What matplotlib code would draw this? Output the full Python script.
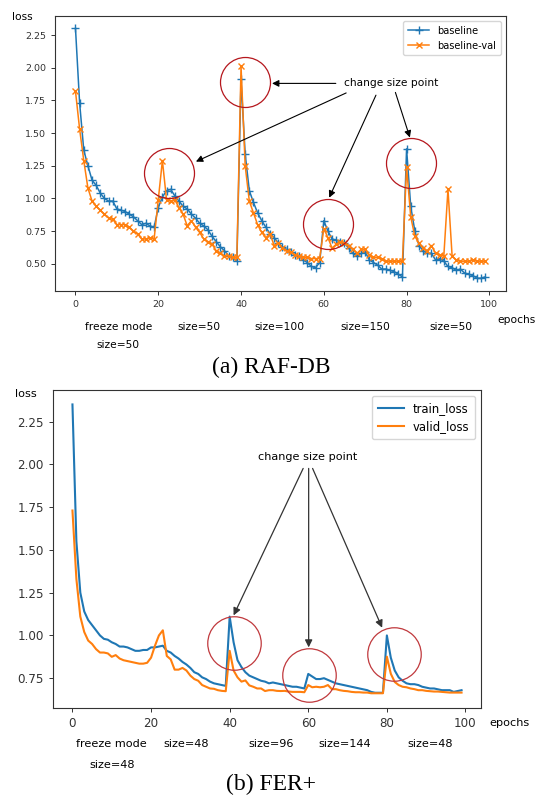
import numpy as np
import matplotlib.pyplot as plt

W, H = 536, 796

epochs = np.arange(100)

# RAF-DB losses
baseline = [2.30, 1.73, 1.37, 1.25, 1.14, 1.10, 1.04, 1.00, 0.98, 0.98,
            0.92, 0.91, 0.90, 0.88, 0.86, 0.83, 0.80, 0.81, 0.79, 0.78,
            0.93, 1.01, 1.06, 1.07, 1.02, 0.98, 0.94, 0.92, 0.88, 0.85,
            0.81, 0.79, 0.76, 0.71, 0.67, 0.63, 0.60, 0.56, 0.55, 0.52,
            1.91, 1.34, 1.06, 0.97, 0.89, 0.83, 0.78, 0.73, 0.70, 0.66,
            0.63, 0.61, 0.59, 0.57, 0.56, 0.53, 0.51, 0.48, 0.47, 0.51,
            0.83, 0.75, 0.69, 0.68, 0.67, 0.66, 0.62, 0.58, 0.56, 0.58,
            0.59, 0.53, 0.51, 0.49, 0.46, 0.46, 0.45, 0.44, 0.42, 0.40,
            1.38, 0.94, 0.75, 0.64, 0.60, 0.58, 0.58, 0.53, 0.54, 0.52,
            0.48, 0.47, 0.45, 0.46, 0.43, 0.42, 0.41, 0.39, 0.39, 0.40]
baseline_val = [1.82, 1.53, 1.29, 1.08, 0.98, 0.94, 0.91, 0.88, 0.85, 0.84,
                0.80, 0.80, 0.80, 0.78, 0.75, 0.73, 0.69, 0.69, 0.70, 0.69,
                0.99, 1.29, 0.99, 0.98, 0.99, 0.93, 0.88, 0.79, 0.83, 0.78,
                0.74, 0.69, 0.67, 0.65, 0.60, 0.58, 0.56, 0.56, 0.55, 0.55,
                2.01, 1.25, 0.98, 0.89, 0.80, 0.74, 0.70, 0.73, 0.64, 0.66,
                0.62, 0.60, 0.59, 0.57, 0.56, 0.55, 0.55, 0.54, 0.54, 0.54,
                0.77, 0.70, 0.62, 0.65, 0.67, 0.66, 0.64, 0.61, 0.58, 0.61,
                0.61, 0.57, 0.55, 0.55, 0.54, 0.52, 0.52, 0.52, 0.52, 0.52,
                1.24, 0.86, 0.71, 0.66, 0.62, 0.60, 0.64, 0.58, 0.57, 0.56,
                1.07, 0.56, 0.53, 0.52, 0.52, 0.52, 0.53, 0.52, 0.52, 0.52]

# FER+ losses
train_loss = [2.35, 1.55, 1.25, 1.14, 1.09, 1.06, 1.03, 1.00, 0.98, 0.975,
              0.96, 0.95, 0.935, 0.935, 0.93, 0.92, 0.91, 0.91, 0.915, 0.915,
              0.93, 0.93, 0.935, 0.94, 0.91, 0.90, 0.88, 0.865, 0.845, 0.83,
              0.81, 0.785, 0.775, 0.755, 0.745, 0.73, 0.72, 0.715, 0.71, 0.705,
              1.11, 0.96, 0.855, 0.815, 0.785, 0.765, 0.755, 0.745, 0.735, 0.73,
              0.72, 0.725, 0.72, 0.715, 0.71, 0.705, 0.70, 0.70, 0.695, 0.69,
              0.775, 0.76, 0.745, 0.745, 0.75, 0.74, 0.73, 0.72, 0.715, 0.71,
              0.705, 0.70, 0.695, 0.69, 0.685, 0.68, 0.67, 0.665, 0.665, 0.665,
              1.00, 0.87, 0.795, 0.755, 0.735, 0.72, 0.715, 0.715, 0.71, 0.70,
              0.695, 0.69, 0.69, 0.685, 0.68, 0.68, 0.68, 0.67, 0.675, 0.68]
valid_loss = [1.73, 1.33, 1.11, 1.02, 0.97, 0.95, 0.92, 0.90, 0.90, 0.895,
              0.875, 0.885, 0.865, 0.855, 0.85, 0.845, 0.84, 0.835, 0.835, 0.84,
              0.87, 0.94, 1.00, 1.03, 0.88, 0.86, 0.80, 0.80, 0.81, 0.795,
              0.765, 0.745, 0.735, 0.71, 0.70, 0.69, 0.688, 0.68, 0.676, 0.674,
              0.91, 0.795, 0.755, 0.73, 0.737, 0.708, 0.70, 0.69, 0.69, 0.675,
              0.68, 0.68, 0.676, 0.675, 0.676, 0.672, 0.67, 0.67, 0.67, 0.668,
              0.71, 0.697, 0.70, 0.697, 0.70, 0.71, 0.686, 0.686, 0.68, 0.676,
              0.674, 0.67, 0.668, 0.668, 0.666, 0.666, 0.662, 0.662, 0.662, 0.662,
              0.876, 0.776, 0.728, 0.71, 0.70, 0.697, 0.69, 0.686, 0.68, 0.68,
              0.676, 0.674, 0.672, 0.672, 0.67, 0.668, 0.666, 0.666, 0.666, 0.666]

raf_stages = ['freeze mode', 'size=50', 'size=100', 'size=150', 'size=50']
fer_stages = ['freeze mode', 'size=48', 'size=96', 'size=144', 'size=48']


def px(x, y):
    # pixel position -> figure fraction
    return x / W, 1 - y / H


def box(left, top, right, bottom):
    return [left / W, 1 - bottom / H, (right - left) / W, (bottom - top) / H]


def style(ax, fs):
    for s in ax.spines.values():
        s.set_color('#333333')
        s.set_linewidth(0.8)
    ax.tick_params(labelsize=fs, length=3, width=0.7, colors='#333333')


fig = plt.figure(figsize=(W / 100, H / 100), dpi=100)

############
# (a) RAF-DB
############
ax1 = fig.add_axes(box(55, 16, 505.7, 290.7))
ax1.plot(epochs, baseline, '-+', color='C0', lw=1.1, ms=6, mew=1, label='baseline')
ax1.plot(epochs, baseline_val, '-x', color='C1', lw=1.1, ms=4.5, mew=1, label='baseline-val')
style(ax1, 6.8)
ax1.legend(loc='upper right', fontsize=7, handlelength=2.2, borderpad=0.5)

red = '#b5171d'
for cx, cy in [(22.6, 1.196), (40.9, 1.888), (61.1, 0.807), (81.1, 1.27)]:
    ax1.plot(cx, cy, 'o', ms=36, mfc='none', mec=red, mew=0.9)

ax1.text(76.4, 1.88, 'change size point', fontsize=7.7, ha='center', va='center')
arrow = dict(arrowstyle='-|>', color='black', lw=0.8, mutation_scale=10,
             shrinkA=0, shrinkB=0)
for tail, head in [((62.9, 1.88), (47.5, 1.88)),
                   ((65.4, 1.807), (29.1, 1.282)),
                   ((72.6, 1.79), (61.3, 1.006)),
                   ((77.3, 1.811), (80.8, 1.466))]:
    ax1.annotate('', xy=head, xytext=tail, arrowprops=arrow)

fig.text(*px(22, 16.7), 'loss', fontsize=7.7, ha='center', va='center')
fig.text(*px(516.7, 320), 'epochs', fontsize=7.7, ha='center', va='center')
for x, s in zip([118.3, 199.2, 279, 365.8, 451.2], raf_stages):
    fig.text(*px(x, 326.7), s, fontsize=7.7, ha='center', va='center')
fig.text(*px(118.3, 345), 'size=50', fontsize=7.7, ha='center', va='center')
fig.text(*px(271, 367), '(a) RAF-DB', fontsize=17, family='Liberation Serif',
         ha='center', va='center')

############
# (b) FER+
############
ax2 = fig.add_axes(box(53, 390, 481, 707.7))
ax2.plot(epochs, train_loss, color='C0', lw=1.5, label='train_loss')
ax2.plot(epochs, valid_loss, color='C1', lw=1.5, label='valid_loss')
style(ax2, 8.6)
ax2.legend(loc='upper right', fontsize=8.4, handlelength=2.2, borderpad=0.5)

for cx, cy in [(41.0, 0.955), (60.1, 0.766), (81.75, 0.893)]:
    ax2.plot(cx, cy, 'o', ms=38.5, mfc='none', mec='#c0393d', mew=0.9)

ax2.text(59.9, 2.042, 'change size point', fontsize=8.1, ha='center', va='center')
arrow2 = dict(arrowstyle='-|>', color='#333333', lw=0.9, mutation_scale=11,
              shrinkA=0, shrinkB=0)
for tail, head in [((58.7, 1.976), (41.0, 1.117)),
                   ((60.1, 1.976), (60.1, 0.93)),
                   ((61.1, 1.976), (78.8, 1.045))]:
    ax2.annotate('', xy=head, xytext=tail, arrowprops=arrow2)

fig.text(*px(26, 394), 'loss', fontsize=8.1, ha='center', va='center')
fig.text(*px(509.7, 722.7), 'epochs', fontsize=8.1, ha='center', va='center')
for x, s in zip([111.7, 185.8, 271, 345, 430.5], fer_stages):
    fig.text(*px(x, 744), s, fontsize=8.1, ha='center', va='center')
fig.text(*px(111.7, 765), 'size=48', fontsize=8.1, ha='center', va='center')
fig.text(*px(271, 784), '(b) FER+', fontsize=17, family='Liberation Serif',
         ha='center', va='center')

fig.savefig('out.png', dpi=100)
